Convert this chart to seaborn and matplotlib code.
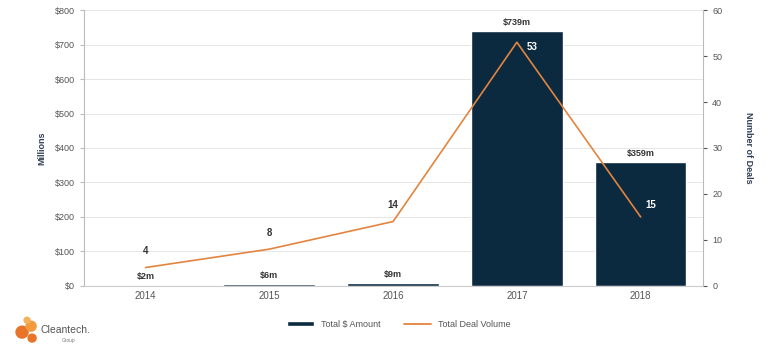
import matplotlib
matplotlib.use("Agg")
import matplotlib.pyplot as plt
import seaborn as sns
import pandas as pd
from matplotlib.patches import Patch, Circle
from matplotlib.lines import Line2D

# === Data ===
years = ["2014", "2015", "2016", "2017", "2018"]
amount_musd = [2, 6, 9, 739, 359]
amount_labels = ["$2m", "$6m", "$9m", "$739m", "$359m"]
deal_counts = [4, 8, 14, 53, 15]

BAR_COLOR = "#0b2a3f"
LINE_COLOR = "#e3843f"
TXT = "#555555"

sns.set_style("white")
plt.rcParams["font.family"] = ["Liberation Sans", "DejaVu Sans"]

df = pd.DataFrame({"year": years, "amount": amount_musd, "deals": deal_counts})

fig = plt.figure(figsize=(7.67, 3.47), dpi=100)
ax = fig.add_axes([0.109, 0.176, 0.807, 0.795])

sns.barplot(data=df, x="year", y="amount", color=BAR_COLOR, width=0.74,
            saturation=1, ax=ax, zorder=2)
ax.set_ylim(0, 800)
ax.set_yticks(range(0, 801, 100))
ax.set_yticklabels([f"${v}" for v in range(0, 801, 100)], fontsize=6.5, color=TXT)
ax.tick_params(axis="x", labelsize=7, colors=TXT, length=0, pad=4)
ax.tick_params(axis="y", length=3, color="#bbbbbb", pad=3)
ax.set_xlabel("")
ax.set_ylabel("Millions", fontsize=6.5, fontweight="bold", color="#2f3f55", labelpad=6)
ax.yaxis.grid(True, color="#e6e6e6", linewidth=0.7, zorder=0)
for s in ["top", "right"]:
    ax.spines[s].set_visible(False)
ax.spines["left"].set_color("#bbbbbb")
ax.spines["bottom"].set_color("#cccccc")

for i, (v, lab) in enumerate(zip(amount_musd, amount_labels)):
    ax.text(i, v + 12, lab, ha="center", va="bottom", fontsize=6.5,
            fontweight="bold", color="#333333")

ax2 = ax.twinx()
sns.lineplot(data=df, x="year", y="deals", color=LINE_COLOR, linewidth=1.2,
             sort=False, ax=ax2, zorder=3)
ax2.set_ylim(0, 60)
ax2.set_yticks(range(0, 61, 10))
ax2.tick_params(axis="y", labelsize=6.5, colors=TXT, length=3, pad=4)
ax2.set_ylabel("Number of Deals", fontsize=6.5, fontweight="bold", color="#2f3f55",
               rotation=270, labelpad=22)
for s in ["top", "left", "bottom"]:
    ax2.spines[s].set_visible(False)
ax2.spines["right"].set_color("#bbbbbb")
ax.set_xlim(-0.5, 4.5)

for i, n in enumerate(deal_counts):
    if n > 30:
        ax2.text(i + 0.12, n - 1, str(n), ha="center", va="center", fontsize=7,
                 fontweight="bold", color="white")
    elif i == 4:
        ax2.text(i + 0.08, n + 2.5, str(n), ha="center", va="center", fontsize=7,
                 fontweight="bold", color="white")
    else:
        ax2.text(i, n + 3.5, str(n), ha="center", va="center", fontsize=7,
                 fontweight="bold", color="#333333")

handles = [Patch(facecolor=BAR_COLOR, label="Total $ Amount"),
           Line2D([0], [0], color=LINE_COLOR, linewidth=1.3, label="Total Deal Volume")]
fig.legend(handles=handles, loc="center", bbox_to_anchor=(0.52, 0.065), ncol=2,
           frameon=False, fontsize=6.5, handlelength=3, handleheight=0.5,
           columnspacing=2.5, labelcolor=TXT)

# logo
lax = fig.add_axes([0.0, 0.0, 0.2, 0.1])
lax.set_xlim(0, 153)
lax.set_ylim(0, 35)
lax.axis("off")
for (cx, cy, r, c) in [(22, 15, 6, "#e8742a"), (31, 21, 5, "#f29a3c"),
                       (32, 9, 4, "#e8742a"), (27, 27, 3, "#f6b25a")]:
    lax.add_patch(Circle((cx, cy), r, color=c))
lax.text(40, 17, "Cleantech.", fontsize=7.5, color="#555555", va="center")
lax.text(62, 7, "Group", fontsize=3.5, color="#777777", va="center")

fig.savefig("out.png", dpi=100)
